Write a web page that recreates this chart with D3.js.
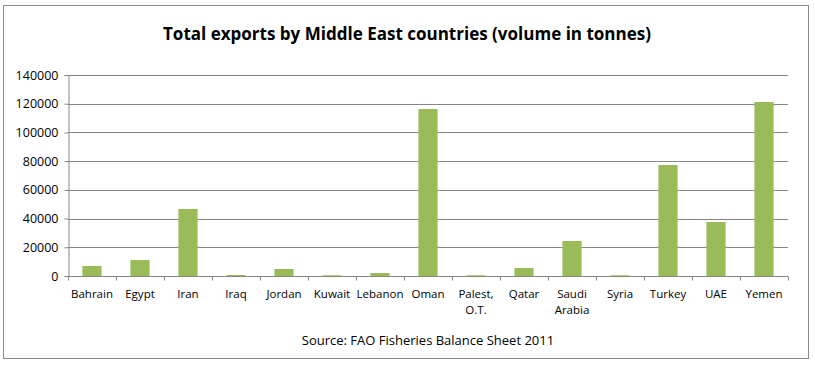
<!DOCTYPE html>
<html>
<head>
<meta charset="utf-8">
<script src="https://cdn.jsdelivr.net/npm/d3@7"></script>
<style>
  body { margin: 0; background: #fff; }
  text { font-family: "Open Sans", "DejaVu Sans", sans-serif; }
</style>
</head>
<body>
<svg></svg>
<script>
const countries = ['Bahrain', 'Egypt', 'Iran', 'Iraq', 'Jordan', 'Kuwait', 'Lebanon', 'Oman',
  'Palest,|O.T.', 'Qatar', 'Saudi|Arabia', 'Syria', 'Turkey', 'UAE', 'Yemen'];
const exportsTonnes = [7000, 11100, 46700, 700, 4900, 500, 2100, 116300,
  500, 5600, 24400, 500, 77300, 37600, 121200];
const yTicks = [0, 20000, 40000, 60000, 80000, 100000, 120000, 140000];

const W = 815, H = 366;
const plotLeft = 68, plotRight = 788, plotTop = 75, plotBottom = 276;

const svg = d3.select('svg').attr('width', W).attr('height', H);

svg.append('rect')
  .attr('x', 3.5).attr('y', 5.5).attr('width', 805).attr('height', 353)
  .attr('fill', '#fff').attr('stroke', '#8c8c8c').attr('stroke-width', 1);

svg.append('text')
  .attr('x', 407).attr('y', 40)
  .attr('text-anchor', 'middle')
  .attr('font-size', 18).attr('font-weight', 'bold')
  .attr('textLength', 488).attr('lengthAdjust', 'spacingAndGlyphs')
  .text('Total exports by Middle East countries (volume in tonnes)');

const x = d3.scaleBand().domain(countries).range([plotLeft, plotRight]).paddingInner(0.6).paddingOuter(0.3);
const xb = d3.scaleBand().domain(countries).range([plotLeft, plotRight]);
const y = d3.scaleLinear().domain([0, 140000]).range([plotBottom, plotTop]);

// gridlines
svg.append('g')
  .selectAll('line')
  .data(yTicks.slice(1))
  .join('line')
  .attr('x1', plotLeft).attr('x2', plotRight)
  .attr('y1', d => Math.round(y(d)) + 0.5).attr('y2', d => Math.round(y(d)) + 0.5)
  .attr('stroke', '#868686');

// y axis
const yAxis = svg.append('g')
  .attr('transform', `translate(${plotLeft + 0.5},0)`)
  .call(d3.axisLeft(y).tickValues(yTicks).tickFormat(d3.format('d')).tickSize(4).tickPadding(6));
yAxis.select('.domain').attr('stroke', '#868686');
yAxis.selectAll('.tick line').attr('stroke', '#868686');
yAxis.selectAll('.tick text').attr('font-size', 12.5).attr('fill', '#000')
  .style('font-family', '"Open Sans", sans-serif');

// bars
svg.append('g')
  .selectAll('rect')
  .data(countries)
  .join('rect')
  .attr('x', d => x(d))
  .attr('width', x.bandwidth())
  .attr('y', (d, i) => y(exportsTonnes[i]))
  .attr('height', (d, i) => y(0) - y(exportsTonnes[i]))
  .attr('fill', '#9bbb59');

// x axis
const xAxisG = svg.append('g').attr('transform', `translate(0,${plotBottom + 0.5})`);
xAxisG.append('line')
  .attr('x1', plotLeft).attr('x2', plotRight).attr('stroke', '#868686');
xAxisG.selectAll('line.tk')
  .data(countries.concat(['__end']))
  .join('line')
  .attr('class', 'tk')
  .attr('x1', (d, i) => Math.round(plotLeft + i * xb.bandwidth()) + 0.5)
  .attr('x2', (d, i) => Math.round(plotLeft + i * xb.bandwidth()) + 0.5)
  .attr('y1', 0).attr('y2', 4)
  .attr('stroke', '#868686');

const lbl = xAxisG.selectAll('text')
  .data(countries)
  .join('text')
  .attr('x', d => xb(d) + xb.bandwidth() / 2)
  .attr('y', 21)
  .attr('text-anchor', 'middle')
  .attr('font-size', 11.5);
lbl.selectAll('tspan')
  .data(d => d.split('|').map((s, k) => ({s, k, d})))
  .join('tspan')
  .attr('x', t => xb(t.d) + xb.bandwidth() / 2)
  .attr('dy', t => t.k === 0 ? 0 : 16)
  .text(t => t.s);

svg.append('text')
  .attr('x', 428).attr('y', 345)
  .attr('text-anchor', 'middle')
  .attr('font-size', 13)
  .text('Source: FAO Fisheries Balance Sheet 2011');
</script>
</body>
</html>
